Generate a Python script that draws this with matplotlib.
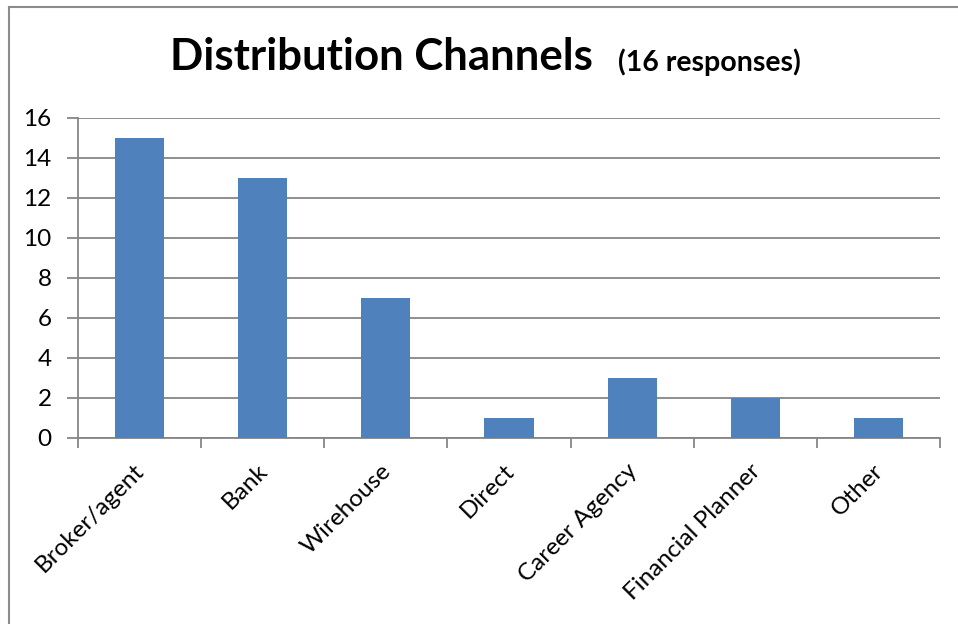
import matplotlib
matplotlib.use("Agg")
import matplotlib.pyplot as plt
import matplotlib.transforms as mtransforms
import numpy as np

categories = ["Broker/agent", "Bank", "Wirehouse", "Direct", "Career Agency", "Financial Planner", "Other"]
values = [15, 13, 7, 1, 3, 2, 1]
yticks = [0, 2, 4, 6, 8, 10, 12, 14, 16]

plt.rcParams['font.family'] = ['Lato', 'DejaVu Sans']

fig = plt.figure(figsize=(9.58, 6.24), dpi=100)
ax = fig.add_axes([78/958, 1-438/624, (940-78)/958, (438-118)/624])

grid_c = "#868686"
x = np.arange(len(categories))
ax.bar(x, values, width=0.4, color="#4F81BD", zorder=3)
ax.set_xlim(-0.5, len(categories)-0.5)
ax.set_ylim(0, 16)
ax.set_yticks(yticks)
ax.set_yticklabels([str(v) for v in yticks], fontsize=17.5)
ax.yaxis.grid(True, color=grid_c, linewidth=1.3, zorder=0)
ax.tick_params(axis='y', length=8, width=1.3, color=grid_c, pad=11)

ax.set_xticks(x)
ax.set_xticklabels(categories, rotation=45, ha='right', va='top', rotation_mode='anchor', fontsize=17.5)
ax.tick_params(axis='x', which='major', length=0, pad=16)
ax.set_xticks(np.arange(len(categories)+1)-0.5, minor=True)
ax.tick_params(axis='x', which='minor', length=7, width=1.3, color=grid_c)
offset = mtransforms.ScaledTranslation(-6/100, 0, fig.dpi_scale_trans)
for lab in ax.get_xticklabels():
    lab.set_transform(lab.get_transform() + offset)

for s in ['top', 'right']:
    ax.spines[s].set_visible(False)
for s in ['left', 'bottom']:
    ax.spines[s].set_color(grid_c)
    ax.spines[s].set_linewidth(1.3)

fig.text(170/958, 1-57/624, "Distribution Channels", fontsize=31.5, fontweight='bold', ha='left', va='center')
fig.text(618/958, 1-62/624, "(16 responses)", fontsize=20.5, fontweight='bold', ha='left', va='center')

# chart border (left and top visible)
fig.add_artist(plt.Line2D([9/958, 9/958], [0, 1-7/624], color="#8c8c8c", linewidth=1.5, transform=fig.transFigure))
fig.add_artist(plt.Line2D([9/958, 1], [1-7/624, 1-7/624], color="#8c8c8c", linewidth=1.5, transform=fig.transFigure))

fig.savefig("out.png", dpi=100)
